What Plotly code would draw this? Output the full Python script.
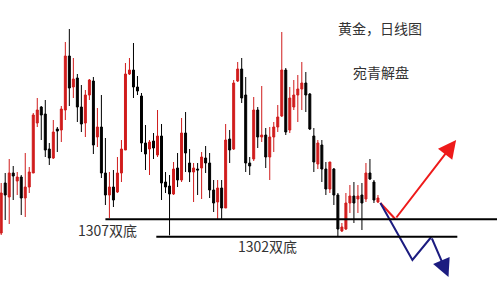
import plotly.graph_objects as go

# Daily gold candles (USD/oz)
opens = [1303.1,1318.1,1313.9,1321.1,1318.7,1319.9,1313.6,1316.9,1321.1,1336.1,
         1340.9,1338.8,1328.3,1325.6,1334.3,1334.0,1340.0,1356.2,1346.9,1349.6,
         1340.9,1336.1,1344.5,1348.7,1331.9,1334.9,1321.1,1314.5,1316.9,1315.4,
         1321.1,1328.0,1350.8,1352.0,1346.9,1344.2,1330.1,1328.3,1330.7,1326.5,
         1332.2,1318.4,1317.2,1314.8,1322.6,1319.0,1333.1,1324.1,1321.4,1322.3,
         1322.6,1325.6,1324.1,1316.0,1312.4,1316.6,1310.6,1331.3,1328.3,1348.7,
         1352.3,1344.5,1324.1,1325.3,1340.0,1331.9,1332.5,1325.9,1331.9,1334.9,
         1338.2,1352.0,1334.0,1340.9,1344.5,1346.3,1348.1,1344.8,1332.2,1323.8,
         1329.5,1322.3,1316.3,1322.3,1314.5,1303.7,1304.3,1312.1,1314.2,1313.3,
         1314.5,1313.3,1321.1,1318.4,1312.4]
highs = [1318.1,1321.1,1325.3,1323.2,1321.4,1320.5,1327.1,1322.9,1339.1,1343.6,
         1341.2,1343.0,1330.1,1337.0,1334.9,1341.2,1360.4,1364.3,1355.6,1350.8,
         1347.5,1346.0,1349.3,1349.9,1340.6,1344.5,1331.6,1321.4,1322.0,1325.9,
         1331.0,1354.1,1355.6,1360.1,1350.2,1345.1,1335.5,1331.0,1333.1,1340.0,
         1335.8,1321.4,1320.5,1324.4,1327.1,1337.6,1339.4,1328.3,1324.1,1324.1,
         1327.4,1329.2,1327.1,1319.0,1319.0,1319.0,1335.8,1334.0,1349.0,1354.4,
         1355.6,1349.9,1325.9,1343.9,1340.9,1347.2,1334.6,1334.9,1336.4,1341.5,
         1363.4,1352.6,1346.9,1349.0,1350.5,1354.4,1351.4,1345.1,1334.6,1331.0,
         1331.0,1324.4,1324.4,1322.6,1315.1,1306.1,1315.1,1317.5,1318.4,1317.5,
         1318.1,1324.1,1325.3,1319.0,1314.5]
lows = [1302.5,1307.0,1305.8,1313.0,1314.5,1308.5,1307.9,1315.1,1321.1,1334.9,
        1331.0,1325.9,1323.5,1325.3,1327.4,1330.4,1337.0,1341.2,1343.6,1336.4,
        1333.4,1331.9,1343.0,1326.8,1328.9,1319.6,1311.5,1307.6,1310.9,1315.1,
        1318.4,1328.0,1350.5,1343.6,1344.5,1327.4,1322.0,1320.5,1325.3,1325.9,
        1313.0,1315.1,1302.4,1314.5,1316.9,1318.4,1321.4,1318.4,1312.4,1314.5,
        1313.3,1321.1,1313.6,1309.4,1307.0,1307.0,1310.6,1324.1,1328.0,1348.4,
        1342.1,1321.4,1320.5,1324.7,1328.6,1330.4,1322.6,1319.0,1327.4,1333.4,
        1337.9,1332.5,1333.1,1340.0,1336.4,1340.0,1339.4,1334.0,1321.4,1322.3,
        1318.4,1314.5,1315.1,1311.5,1302.2,1303.4,1304.0,1309.1,1306.1,1309.1,
        1304.0,1312.4,1319.0,1312.1,1312.1]
closes = [1315.1,1314.5,1321.1,1320.2,1319.9,1313.6,1316.9,1321.4,1338.5,1340.0,
          1338.5,1328.0,1325.6,1333.4,1333.7,1340.3,1356.2,1346.6,1349.3,1340.9,
          1335.8,1344.5,1349.0,1329.5,1334.9,1321.1,1314.5,1316.9,1313.0,1321.1,
          1328.3,1350.8,1352.0,1346.9,1345.7,1330.1,1326.8,1330.4,1328.6,1332.2,
          1318.1,1316.9,1314.8,1322.3,1319.0,1333.1,1327.1,1321.4,1322.6,1322.0,
          1325.9,1324.1,1316.0,1312.1,1316.6,1310.6,1331.0,1328.0,1348.1,1352.3,
          1343.6,1324.1,1323.2,1340.0,1331.9,1332.5,1325.9,1331.9,1334.9,1337.9,
          1352.0,1333.4,1343.6,1344.5,1346.3,1348.1,1344.5,1334.3,1324.4,1330.1,
          1322.3,1316.3,1324.4,1314.5,1304.3,1304.9,1312.1,1314.2,1312.1,1314.2,
          1312.1,1321.1,1319.3,1313.0,1313.6]
days = list(range(len(opens)))

# Support levels (double bottoms)
support_levels = [1307.2, 1302.0]
support_labels = ["1307双底", "1302双底"]
support_start = [26, 38.7]
support_end = [124, 113.8]

# Scenario paths (bar index, price)
up_x = [94.6, 98.3, 113.5]
up_y = [1312.1, 1307.3, 1331.0]
down_x = [94.6, 102.6, 107.3, 111.6]
down_y = [1312.1, 1295.0, 1301.9, 1289.9]

title_text = "黄金，日线图"
author_text = "宛青解盘"

RED = "#d01c1c"
fig = go.Figure()
fig.add_trace(go.Candlestick(
    x=days, open=opens, high=highs, low=lows, close=closes,
    increasing=dict(line=dict(color=RED, width=1), fillcolor=RED),
    decreasing=dict(line=dict(color="#000000", width=1), fillcolor="#000000"),
    whiskerwidth=0, showlegend=False, hoverinfo="skip"))

for lvl, x0, x1 in zip(support_levels, support_start, support_end):
    fig.add_shape(type="line", xref="x", yref="y", x0=x0, x1=x1, y0=lvl, y1=lvl,
                  line=dict(color="#000000", width=2))

fig.add_trace(go.Scatter(x=up_x[:-1], y=up_y[:-1], mode="lines",
                         line=dict(color="#ee1a1a", width=2), showlegend=False, hoverinfo="skip"))
fig.add_trace(go.Scatter(x=down_x[:-1], y=down_y[:-1], mode="lines",
                         line=dict(color="#1c1c80", width=2), showlegend=False, hoverinfo="skip"))
for xs, ys, col in [(up_x, up_y, "#ee1a1a"), (down_x, down_y, "#1c1c80")]:
    fig.add_annotation(x=xs[-1], y=ys[-1], ax=xs[-2], ay=ys[-2], xref="x", yref="y",
                       axref="x", ayref="y", text="", showarrow=True, arrowhead=2,
                       arrowsize=1.8, arrowwidth=2, arrowcolor=col)

font = dict(family="Noto Sans CJK SC", size=14, color="#333333")
for txt, px, py in [(title_text, 380, 28), (author_text, 381, 72),
                    (support_labels[0], 107, 230), (support_labels[1], 267, 246)]:
    fig.add_annotation(x=px/497, y=1-py/281, xref="paper", yref="paper", text=txt,
                       xanchor="center", yanchor="middle", showarrow=False, font=font)

fig.update_layout(
    width=497, height=281, margin=dict(l=0, r=0, t=0, b=0),
    paper_bgcolor="white", plot_bgcolor="white",
    xaxis=dict(range=[-0.3, 123.7], visible=False, rangeslider=dict(visible=False)),
    yaxis=dict(range=[1288.7, 1373], visible=False),
)
fig.write_html("out.html")
